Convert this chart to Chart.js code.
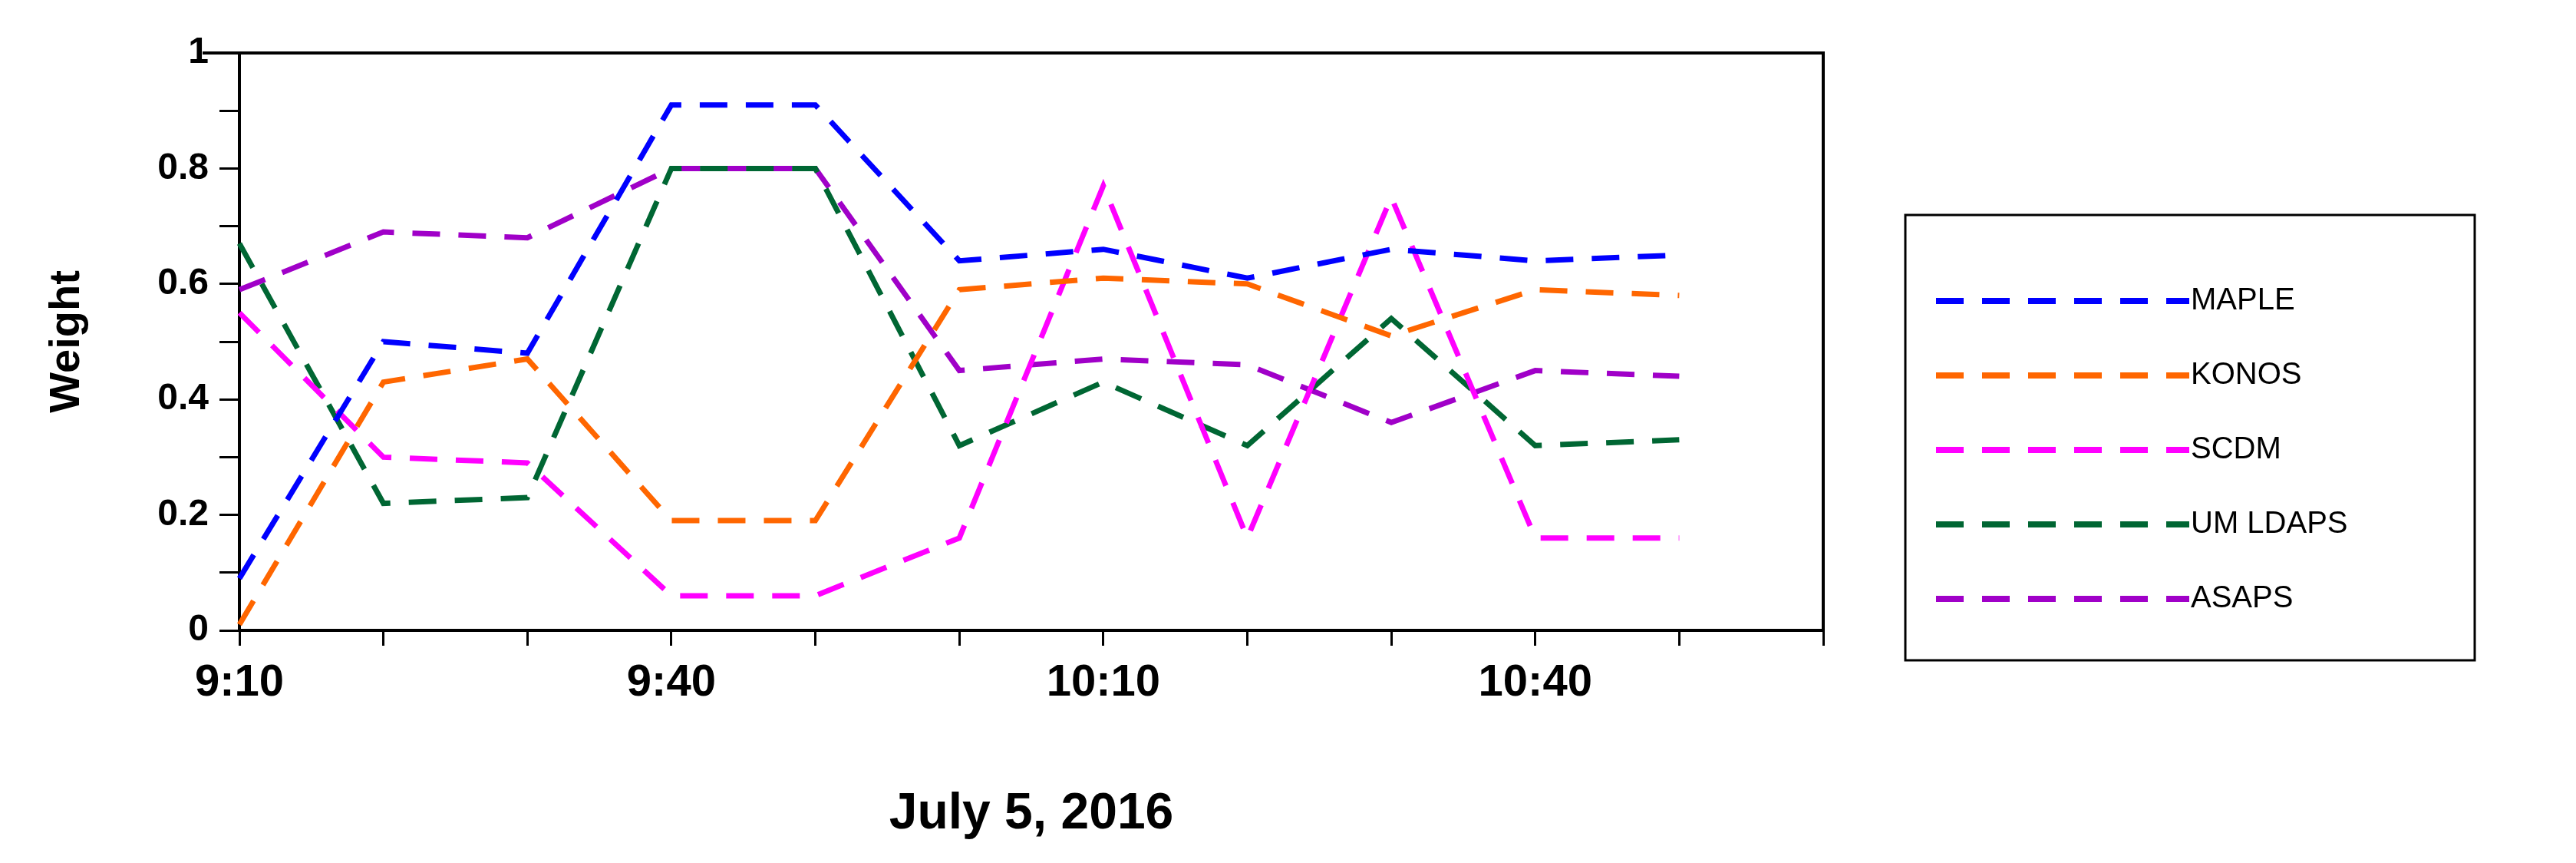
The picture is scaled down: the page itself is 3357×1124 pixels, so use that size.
<!DOCTYPE html>
<html><head><meta charset="utf-8">
<script src="https://cdn.jsdelivr.net/npm/chart.js@4"></script>
<style>body{margin:0;background:#fff}#c{display:block}</style>
</head><body>
<canvas id="c" width="3357" height="1124"></canvas>
<script>
var timeLabels = ['9:10','','','9:40','','','10:10','','','10:40','',''];
var seriesNames = ['MAPLE','KONOS','SCDM','UM LDAPS','ASAPS'];
var seriesColors = ['#0000ff','#ff6600','#ff00ff','#006633','#a000c8'];
var maple   = [0.09,0.50,0.48,0.91,0.91,0.64,0.66,0.61,0.66,0.64,0.65];
var konos   = [0.01,0.43,0.47,0.19,0.19,0.59,0.61,0.60,0.51,0.59,0.58];
var scdm    = [0.55,0.30,0.29,0.06,0.06,0.16,0.77,0.16,0.75,0.16,0.16];
var umldaps = [0.67,0.22,0.23,0.80,0.80,0.32,0.43,0.32,0.54,0.32,0.33];
var asaps   = [0.59,0.69,0.68,0.80,0.80,0.45,0.47,0.46,0.36,0.45,0.44];
var allData = [maple,konos,scdm,umldaps,asaps];

var myData = [];
for (i = 0; i < seriesNames.length; i++) {
  myData.push({
    label: seriesNames[i],
    data: allData[i],
    borderColor: seriesColors[i],
    backgroundColor: seriesColors[i],
    borderWidth: 7,
    borderDash: [36,24],
    pointRadius: 0,
    tension: 0,
    fill: false
  });
}

// frame around plot + boxed legend on the right
var extras = {
  id: 'extras',
  afterDraw: function(chart) {
    var ctx = chart.ctx, a = chart.chartArea;
    ctx.save();
    ctx.strokeStyle = '#000';
    ctx.lineWidth = 4;
    ctx.beginPath();
    ctx.moveTo(264, a.top); ctx.lineTo(a.right, a.top); ctx.lineTo(a.right, a.bottom);
    ctx.stroke();
    // legend
    var bx = 2483, by = 280, bw = 742, bh = 580;
    ctx.lineWidth = 3;
    ctx.strokeRect(bx, by, bw, bh);
    ctx.font = '40px "Liberation Sans", Arial, sans-serif';
    ctx.textBaseline = 'middle';
    chart.data.datasets.forEach(function(ds, k) {
      var y = by + 112 + k * 97;
      ctx.strokeStyle = ds.borderColor;
      ctx.lineWidth = 8;
      ctx.setLineDash([36,24]);
      ctx.beginPath(); ctx.moveTo(bx + 40, y); ctx.lineTo(bx + 370, y); ctx.stroke();
      ctx.setLineDash([]);
      ctx.fillStyle = '#000';
      ctx.fillText(ds.label, bx + 372, y);
    });
    ctx.restore();
  }
};

Chart.defaults.font.family = '"Liberation Sans", Arial, sans-serif';
Chart.defaults.color = '#000';

new Chart(document.getElementById('c'), {
  type: 'line',
  data: { labels: timeLabels, datasets: myData },
  plugins: [extras],
  options: {
    responsive: false,
    animation: false,
    layout: { padding: { left: 50, right: 981, top: 69, bottom: 20 } },
    plugins: { legend: { display: false }, tooltip: { enabled: false } },
    scales: {
      x: {
        type: 'category',
        offset: false,
        grid: { drawOnChartArea: false, tickLength: 20, color: '#000', lineWidth: 3 },
        border: { color: '#000', width: 4 },
        ticks: { autoSkip: false, maxRotation: 0, padding: 14, font: { size: 58, weight: 'bold' } },
        title: { display: true, text: 'July 5, 2016', font: { size: 66, weight: 'bold' }, padding: { top: 0 } },
        afterFit: function(s) { s.height = 283; }
      },
      y: {
        min: 0, max: 1,
        grid: { drawOnChartArea: false, tickLength: 26, color: '#000', lineWidth: 3 },
        border: { color: '#000', width: 4 },
        ticks: {
          stepSize: 0.1, padding: 14,
          font: { size: 48, weight: 'bold' },
          callback: function(v) {
            var r = Math.round(v * 10);
            return r % 2 === 0 ? String(r / 10) : '';
          }
        },
        title: { display: true, text: 'Weight', font: { size: 56, weight: 'bold' }, padding: { bottom: 10 } },
        afterFit: function(s) { s.width = 262; }
      }
    }
  }
});
</script>
</body></html>
